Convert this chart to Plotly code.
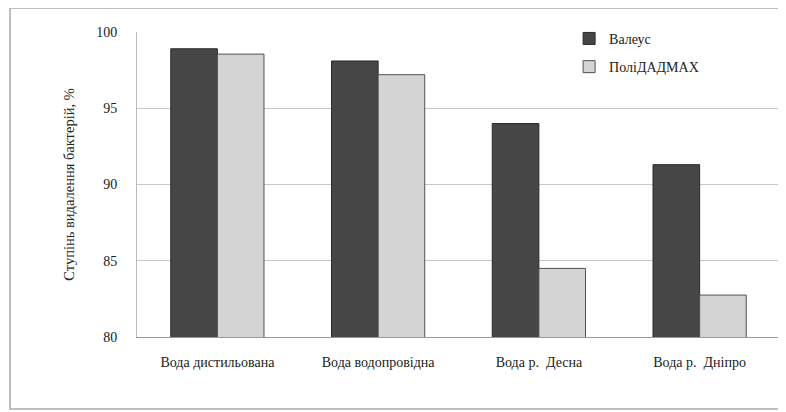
import plotly.graph_objects as go

categories = ["Вода дистильована", "Вода водопровідна", "Вода р.  Десна", "Вода р.  Дніпро"]
valeus = [98.9, 98.1, 94.0, 91.3]
polidadmax = [98.55, 97.2, 84.5, 82.75]
series_names = ["Валеус", "ПоліДАДМАХ"]
y_ticks = [80, 85, 90, 95, 100]

FONT = "Liberation Serif"

fig = go.Figure()
fig.add_trace(go.Bar(x=categories, y=valeus, name=series_names[0], legendgroup="a",
                     marker=dict(color="#464646", line=dict(color="#2a2a2a", width=1))))
fig.add_trace(go.Bar(x=categories, y=polidadmax, name=series_names[1], legendgroup="b",
                     marker=dict(color="#d4d4d4", line=dict(color="#505050", width=1))))

fig.update_layout(
    width=778, height=404,
    margin=dict(l=129, r=6, t=24, b=75),
    paper_bgcolor="white", plot_bgcolor="white",
    barmode="group", bargap=0.42, bargroupgap=0,
    font=dict(family=FONT, size=14, color="#222"),
    showlegend=True,
    legend=dict(x=0.672, y=1.03, xanchor="left", yanchor="top",
                bgcolor="rgba(0,0,0,0)", font=dict(family=FONT, size=14),
                itemwidth=30, tracegroupgap=7),
    xaxis=dict(showgrid=False, showline=True, linecolor="#999", linewidth=1,
               ticks="", tickfont=dict(family=FONT, size=14, color="#222"), ticklabelstandoff=12),
    yaxis=dict(range=[80, 100], tickvals=y_ticks, showgrid=True, gridcolor="#c8c8c8",
               showline=True, linecolor="#bbb", ticks="", zeroline=False,
               tickfont=dict(family=FONT, size=14, color="#222"), ticklabelstandoff=16,
               title=dict(text="Ступінь видалення бактерій, %", font=dict(family=FONT, size=14.5),
                          standoff=18)),
    shapes=[dict(type="rect", xref="paper", yref="paper",
                 x0=-0.1975, x1=1.0047, y0=-0.236, y1=1.0787,
                 line=dict(color="#aaa", width=1.5), fillcolor="rgba(0,0,0,0)", layer="below")],
)

fig.write_html("out.html")
